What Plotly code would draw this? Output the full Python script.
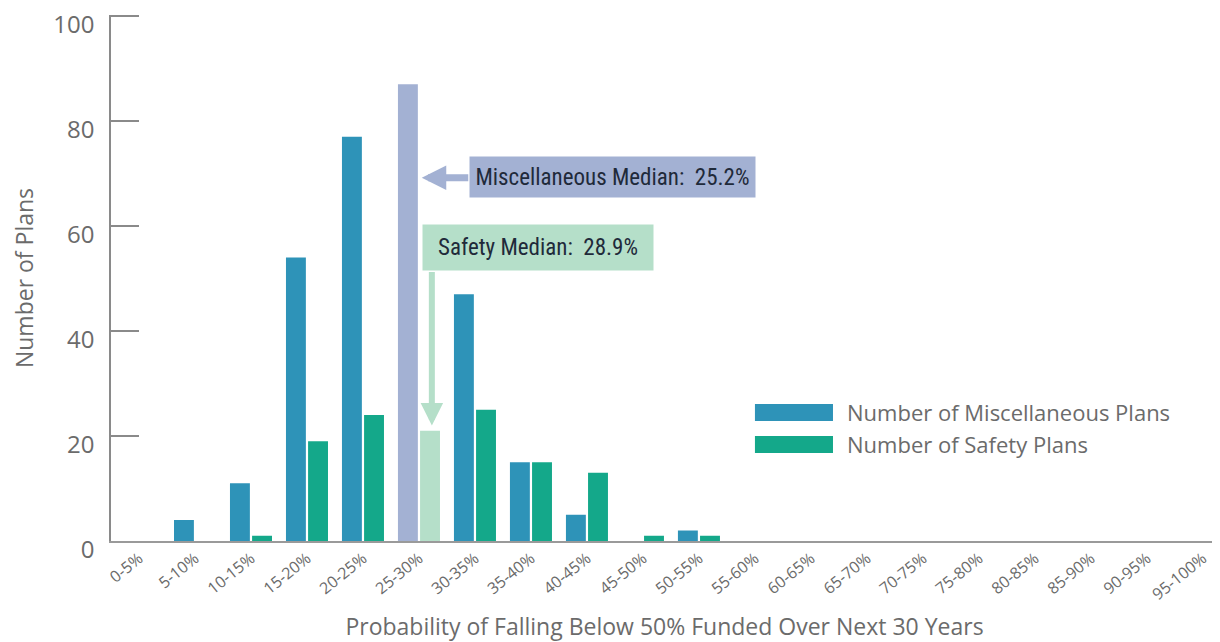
import plotly.graph_objects as go

bins = ["0-5%", "5-10%", "10-15%", "15-20%", "20-25%", "25-30%", "30-35%",
        "35-40%", "40-45%", "45-50%", "50-55%", "55-60%", "60-65%", "65-70%",
        "70-75%", "75-80%", "80-85%", "85-90%", "90-95%", "95-100%"]
misc_plans = [0, 4, 11, 54, 77, 87, 47, 15, 5, 0, 2, 0, 0, 0, 0, 0, 0, 0, 0, 0]
safety_plans = [0, 0, 1, 19, 24, 21, 25, 15, 13, 1, 1, 0, 0, 0, 0, 0, 0, 0, 0, 0]
y_ticks = [0, 20, 40, 60, 80, 100]
misc_name = "Number of Miscellaneous Plans"
safety_name = "Number of Safety Plans"
misc_median = "Miscellaneous Median:&nbsp;&nbsp;25.2%"
safety_median = "Safety Median:&nbsp;&nbsp;28.9%"
median_bin = "25-30%"

BLUE = "#2e93b8"
GREEN = "#14a88a"
LAVENDER = "#a3b1d3"
MINT = "#b5dfc9"
GREY = "#6b6b6b"

misc_colors = [LAVENDER if b == median_bin else BLUE for b in bins]
safety_colors = [MINT if b == median_bin else GREEN for b in bins]

fig = go.Figure()
fig.add_trace(go.Bar(x=bins, y=misc_plans, name=misc_name,
                     marker=dict(color=misc_colors, line=dict(width=0))))
fig.add_trace(go.Bar(x=bins, y=safety_plans, name=safety_name,
                     marker=dict(color=safety_colors, line=dict(width=0))))

# page body has an 8px margin, so the figure is sized to fit inside it
fig.update_layout(
    width=1212, height=634,
    margin=dict(l=103, r=2, t=7, b=101),
    paper_bgcolor="white", plot_bgcolor="white",
    font=dict(family="Open Sans", color=GREY),
    barmode="group", bargap=0.21, bargroupgap=0.1,
    showlegend=False,
)

fig.update_xaxes(
    range=[-0.5, 19.27], showline=True, linecolor="#9a9a9a", linewidth=2,
    ticks="", tickangle=-39, tickfont=dict(size=16, color=GREY),
    showgrid=False, automargin=False, ticklabeloverflow="allow",
    title=dict(text="Probability of Falling Below 50% Funded Over Next 30 Years",
               font=dict(size=23, color=GREY), standoff=31),
)
fig.update_yaxes(
    range=[0, 100.2], tickvals=y_ticks, showline=True, linecolor="#8a8a8a",
    linewidth=1.5, ticks="inside", ticklen=28, tickcolor="#8a8a8a", tickwidth=1.5,
    showgrid=False, zeroline=False, ticklabelstandoff=10, ticklabelshift=9,
    automargin=False, ticklabeloverflow="allow",
    tickfont=dict(size=24, color=GREY),
    title=dict(text="Number of Plans", font=dict(size=23, color=GREY), standoff=31),
)

# median callouts
narrow = "Roboto Condensed, Liberation Sans Narrow, DejaVu Sans Condensed, Roboto, sans-serif"
fig.add_annotation(xref="paper", yref="paper", x=0.453, y=0.692,
                   xanchor="center", yanchor="middle",
                   text=misc_median, showarrow=False, bgcolor=LAVENDER,
                   width=285, height=40, borderpad=0,
                   font=dict(family=narrow, size=23, color="#1f2a3a"))
fig.add_annotation(xref="paper", yref="paper", x=0.3857, y=0.558,
                   xanchor="center", yanchor="middle",
                   text=safety_median, showarrow=False, bgcolor=MINT,
                   width=230, height=45, borderpad=0,
                   font=dict(family=narrow, size=23, color="#1f2a3a"))
fig.add_annotation(x=5.05, y=69.2, text="", showarrow=True, ax=48, ay=0,
                   arrowhead=2, arrowwidth=7, arrowsize=0.7, arrowcolor=LAVENDER)
fig.add_annotation(x=5.23, y=22.0, text="", showarrow=True, ax=0, ay=-155,
                   arrowhead=2, arrowwidth=6, arrowsize=0.75, arrowcolor=MINT)

# legend drawn as wide swatches
for y0, y1, col, name, yt in [(0.2281, 0.2605, BLUE, misc_name, 0.2443),
                              (0.1673, 0.1996, GREEN, safety_name, 0.1835)]:
    fig.add_shape(type="rect", xref="paper", yref="paper", x0=0.5817, x1=0.6522,
                  y0=y0, y1=y1, fillcolor=col, line=dict(width=0))
    fig.add_annotation(xref="paper", yref="paper", x=0.663, y=yt, text=name,
                       showarrow=False, xanchor="left", yanchor="middle",
                       font=dict(size=22, color=GREY))

fig.write_html("out.html")
